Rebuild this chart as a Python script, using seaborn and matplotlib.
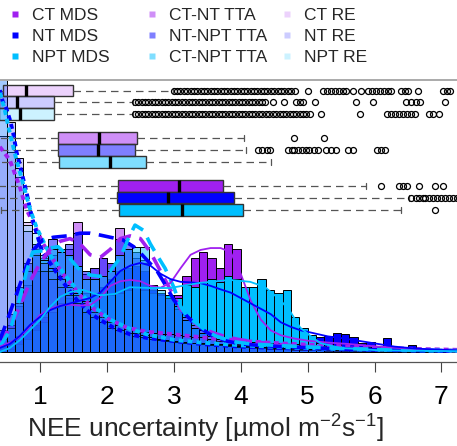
import numpy as np
import matplotlib
matplotlib.use("Agg")
import matplotlib.pyplot as plt
import seaborn as sns
from matplotlib.colors import to_rgba
from matplotlib.lines import Line2D

sns.set_theme(style="white")
plt.rcParams["font.family"] = ["Liberation Sans", "DejaVu Sans"]
plt.rcParams["mathtext.fontset"] = "custom"
plt.rcParams["mathtext.rm"] = "Liberation Sans"
plt.rcParams["mathtext.it"] = "Liberation Sans:italic"
plt.rcParams["mathtext.bf"] = "Liberation Sans:bold"

# ---------------- data ----------------
series = ["CT MDS", "NT MDS", "NPT MDS",
          "CT-NT TTA", "NT-NPT TTA", "CT-NPT TTA",
          "CT RE", "NT RE", "NPT RE"]
base_cols = {"CT": "#A020F0", "NT": "#0000FF", "NPT": "#00BFFF"}

bin_edges = [0.375, 0.5, 0.625, 0.75, 0.875, 1.0, 1.125, 1.25, 1.375, 1.5,
             1.625, 1.75, 1.875, 2.0, 2.125, 2.25, 2.375, 2.5, 2.625, 2.75,
             2.875, 3.0, 3.125, 3.25, 3.375, 3.5, 3.625, 3.75, 3.875, 4.0,
             4.125, 4.25, 4.375, 4.5, 4.625, 4.75, 4.875, 5.0, 5.125, 5.25,
             5.375, 5.5, 5.625, 5.75, 5.875, 6.0, 6.125, 6.25, 6.375, 6.5,
             6.625, 6.75, 6.875, 7.0, 7.125, 7.25]

hist_ct_mds = [0.01, 0.03, 0.05, 0.08, 0.11, 0.13, 0.15, 0.16, 0.17, 0.16,
               0.17, 0.18, 0.20, 0.22, 0.25, 0.27, 0.26, 0.24, 0.22, 0.20,
               0.20, 0.21, 0.28, 0.35, 0.37, 0.35, 0.31, 0.40, 0.38, 0.22,
               0.16, 0.12, 0.09, 0.07, 0.06, 0.05, 0.045, 0.04, 0.035, 0.03,
               0.03, 0.028, 0.025, 0.022, 0.02, 0.018, 0.015, 0.012, 0.01, 0.008,
               0.006, 0.005, 0.004, 0.003, 0.002]
hist_nt_mds = [0.02, 0.04, 0.06, 0.08, 0.10, 0.11, 0.13, 0.15, 0.17, 0.19,
               0.21, 0.22, 0.24, 0.27, 0.30, 0.31, 0.32, 0.30, 0.23, 0.22,
               0.21, 0.20, 0.22, 0.23, 0.24, 0.25, 0.22, 0.21, 0.20, 0.19,
               0.17, 0.16, 0.15, 0.12, 0.10, 0.08, 0.07, 0.06, 0.055, 0.06,
               0.07, 0.067, 0.056, 0.033, 0.037, 0.015, 0.052, 0.019, 0.015, 0.026,
               0.015, 0.01, 0.008, 0.006, 0.004]
hist_npt_mds = [0.0, 0.01, 0.03, 0.05, 0.08, 0.11, 0.15, 0.18, 0.20, 0.21,
                0.22, 0.21, 0.22, 0.21, 0.22, 0.23, 0.24, 0.23, 0.22, 0.21,
                0.21, 0.20, 0.25, 0.24, 0.26, 0.27, 0.26, 0.28, 0.27, 0.24,
                0.24, 0.27, 0.23, 0.22, 0.23, 0.13, 0.09, 0.063, 0.033, 0.015,
                0.01, 0.008, 0.006, 0.005, 0.004, 0.003, 0.003, 0.002, 0.002, 0.002,
                0.001, 0.001, 0.001, 0.001, 0.001]
hist_ctnt_tta = [0.05, 0.10, 0.17, 0.25, 0.30, 0.33, 0.36, 0.37, 0.38, 0.48,
                 0.29, 0.31, 0.35, 0.33, 0.46, 0.38, 0.35, 0.33, 0.25, 0.22,
                 0.20, 0.16, 0.13, 0.10, 0.08, 0.06, 0.05, 0.04, 0.035, 0.03,
                 0.025, 0.02, 0.02, 0.015, 0.015, 0.012, 0.01, 0.01, 0.008, 0.008,
                 0.006, 0.006, 0.005, 0.005, 0.004, 0.004, 0.003, 0.003, 0.002, 0.002,
                 0.002, 0.001, 0.001, 0.001, 0.001]
hist_ntnpt_tta = [0.08, 0.14, 0.24, 0.33, 0.40, 0.35, 0.42, 0.38, 0.40, 0.44,
                  0.30, 0.31, 0.35, 0.33, 0.42, 0.40, 0.37, 0.34, 0.24, 0.22,
                  0.20, 0.17, 0.12, 0.09, 0.07, 0.05, 0.04, 0.03, 0.03, 0.02,
                  0.02, 0.015, 0.01, 0.01, 0.01, 0.01, 0.008, 0.008, 0.006, 0.006,
                  0.005, 0.005, 0.004, 0.004, 0.003, 0.003, 0.003, 0.002, 0.002, 0.002,
                  0.001, 0.001, 0.001, 0.001, 0.001]
hist_ctnpt_tta = [0.03, 0.09, 0.18, 0.30, 0.38, 0.36, 0.38, 0.37, 0.36, 0.32,
                  0.27, 0.27, 0.28, 0.30, 0.36, 0.38, 0.39, 0.39, 0.25, 0.23,
                  0.21, 0.17, 0.12, 0.09, 0.07, 0.05, 0.04, 0.03, 0.025, 0.02,
                  0.015, 0.015, 0.012, 0.01, 0.01, 0.008, 0.008, 0.006, 0.006, 0.005,
                  0.004, 0.004, 0.003, 0.003, 0.003, 0.002, 0.002, 0.002, 0.001, 0.001,
                  0.001, 0.001, 0.001, 0.001, 0.001]
hist_ct_re = [0.80, 0.74, 0.65, 0.48, 0.40, 0.33, 0.30, 0.27, 0.24, 0.21,
              0.18, 0.15, 0.13, 0.11, 0.10, 0.09, 0.08, 0.075, 0.07, 0.068,
              0.065, 0.062, 0.06, 0.057, 0.054, 0.05, 0.048, 0.045, 0.043, 0.04,
              0.038, 0.036, 0.034, 0.032, 0.03, 0.028, 0.026, 0.025, 0.024, 0.022,
              0.021, 0.02, 0.019, 0.018, 0.017, 0.016, 0.015, 0.014, 0.013, 0.012,
              0.011, 0.01, 0.009, 0.008, 0.008]
hist_nt_re = [1.30, 0.85, 0.72, 0.45, 0.36, 0.30, 0.27, 0.24, 0.21, 0.18,
              0.15, 0.13, 0.11, 0.09, 0.08, 0.07, 0.06, 0.055, 0.05, 0.046,
              0.042, 0.038, 0.035, 0.032, 0.029, 0.027, 0.025, 0.022, 0.02, 0.019,
              0.018, 0.017, 0.015, 0.014, 0.013, 0.012, 0.012, 0.011, 0.01, 0.01,
              0.009, 0.009, 0.008, 0.008, 0.007, 0.007, 0.006, 0.006, 0.005, 0.005,
              0.005, 0.004, 0.004, 0.004, 0.004]
hist_npt_re = [1.20, 0.80, 0.68, 0.47, 0.44, 0.34, 0.31, 0.28, 0.25, 0.22,
               0.19, 0.16, 0.14, 0.12, 0.10, 0.085, 0.07, 0.062, 0.056, 0.05,
               0.046, 0.042, 0.038, 0.035, 0.032, 0.03, 0.028, 0.025, 0.023, 0.022,
               0.02, 0.018, 0.017, 0.016, 0.015, 0.014, 0.013, 0.012, 0.011, 0.01,
               0.009, 0.009, 0.008, 0.008, 0.007, 0.007, 0.006, 0.006, 0.005, 0.005,
               0.005, 0.004, 0.004, 0.004, 0.004]

# density curves
kde_ct_mds_x = [0.40, 0.55, 0.70, 0.85, 1.00, 1.15, 1.30, 1.45, 1.60, 1.75, 1.90, 2.05, 2.20, 2.35,
                2.50, 2.65, 2.80, 2.95, 3.10, 3.25, 3.40, 3.55, 3.70, 3.85, 4.00, 4.15, 4.30, 4.45,
                4.60, 4.80, 5.00, 5.30, 5.60, 6.00, 6.50, 7.00, 7.25]
kde_ct_mds_y = [0.02, 0.035, 0.056, 0.095, 0.137, 0.16, 0.172, 0.175, 0.172, 0.174, 0.20, 0.245, 0.262, 0.267,
                0.262, 0.245, 0.238, 0.256, 0.31, 0.36, 0.378, 0.385, 0.385, 0.37, 0.29, 0.19, 0.12, 0.08,
                0.062, 0.05, 0.042, 0.035, 0.03, 0.021, 0.013, 0.007, 0.005]
kde_nt_mds_x = [0.40, 0.55, 0.70, 0.85, 1.00, 1.15, 1.30, 1.45, 1.60, 1.75, 1.90, 2.05, 2.20, 2.35,
                2.50, 2.65, 2.80, 2.95, 3.10, 3.25, 3.40, 3.55, 3.70, 3.85, 4.00, 4.15, 4.30, 4.45,
                4.60, 4.75, 4.90, 5.05, 5.30, 5.55, 5.80, 6.05, 6.30, 6.60, 6.90, 7.25]
kde_nt_mds_y = [0.015, 0.03, 0.06, 0.10, 0.13, 0.155, 0.17, 0.18, 0.19, 0.20, 0.22, 0.26, 0.30, 0.32,
                0.33, 0.32, 0.29, 0.27, 0.26, 0.258, 0.255, 0.245, 0.232, 0.22, 0.20, 0.18, 0.16, 0.14,
                0.11, 0.093, 0.08, 0.072, 0.058, 0.05, 0.04, 0.03, 0.02, 0.013, 0.009, 0.006]
kde_npt_mds_x = [0.40, 0.55, 0.70, 0.85, 1.00, 1.15, 1.30, 1.45, 1.64, 1.90, 2.12, 2.34, 2.64, 2.94,
                 3.39, 3.84, 4.14, 4.36, 4.59, 4.74, 4.89, 5.04, 5.19, 5.49, 6.09, 7.25]
kde_npt_mds_y = [0.0, 0.015, 0.044, 0.081, 0.119, 0.167, 0.204, 0.222, 0.23, 0.21, 0.215, 0.24, 0.237, 0.237,
                 0.256, 0.267, 0.26, 0.241, 0.193, 0.15, 0.09, 0.06, 0.033, 0.015, 0.006, 0.003]

kde_ctnt_tta_x = [0.40, 0.55, 0.70, 0.85, 1.00, 1.15, 1.30, 1.45, 1.60, 1.75, 1.90, 2.05, 2.20, 2.35,
                  2.50, 2.65, 2.80, 2.95, 3.10, 3.25, 3.40, 3.60, 3.80, 4.00, 4.30, 4.70, 5.20, 6.00, 7.25]
kde_ctnt_tta_y = [0.03, 0.09, 0.17, 0.26, 0.33, 0.38, 0.41, 0.42, 0.40, 0.36, 0.35, 0.38, 0.42, 0.43,
                  0.42, 0.37, 0.30, 0.23, 0.16, 0.12, 0.09, 0.07, 0.055, 0.045, 0.035, 0.025, 0.018, 0.01, 0.005]
kde_ntnpt_tta_x = [0.40, 0.50, 0.60, 0.70, 0.80, 0.90, 1.04, 1.20, 1.40, 1.60, 1.75, 1.90, 2.05, 2.24,
                   2.40, 2.50, 2.62, 2.75, 2.87, 3.00, 3.15, 3.30, 3.45, 3.60, 3.80, 4.00, 4.30, 4.60,
                   5.00, 5.60, 6.50, 7.25]
kde_ntnpt_tta_y = [0.044, 0.11, 0.18, 0.25, 0.32, 0.378, 0.415, 0.425, 0.43, 0.44, 0.44, 0.433, 0.425, 0.415,
                   0.39, 0.367, 0.335, 0.30, 0.25, 0.193, 0.145, 0.107, 0.08, 0.056, 0.04, 0.03, 0.024, 0.02,
                   0.016, 0.01, 0.006, 0.004]
kde_ctnpt_tta_x = [0.40, 0.55, 0.70, 0.80, 0.89, 1.04, 1.15, 1.27, 1.40, 1.57, 1.75, 1.90, 2.05, 2.20,
                   2.32, 2.42, 2.55, 2.65, 2.77, 2.87, 3.00, 3.10, 3.20, 3.32, 3.45, 3.62, 3.85, 4.14,
                   4.50, 4.90, 5.50, 6.30, 7.25]
kde_ctnpt_tta_y = [0.02, 0.08, 0.20, 0.30, 0.37, 0.375, 0.385, 0.39, 0.36, 0.31, 0.285, 0.28, 0.30, 0.35,
                   0.42, 0.47, 0.45, 0.40, 0.35, 0.31, 0.24, 0.17, 0.13, 0.11, 0.085, 0.06, 0.04, 0.03,
                   0.025, 0.02, 0.013, 0.008, 0.005]

kde_ct_re_x = [0.40, 0.55, 0.70, 0.80, 0.90, 1.05, 1.20, 1.40, 1.60, 1.80, 2.00, 2.30, 2.60, 2.90,
               3.20, 3.60, 4.10, 4.60, 5.20, 5.80, 6.50, 7.25]
kde_ct_re_y = [0.76, 0.71, 0.61, 0.526, 0.478, 0.40, 0.34, 0.27, 0.21, 0.16, 0.125, 0.09, 0.075, 0.068,
               0.06, 0.05, 0.04, 0.032, 0.025, 0.018, 0.012, 0.008]
kde_nt_re_x = [0.40, 0.44, 0.50, 0.55, 0.60, 0.65, 0.73, 0.80, 0.85, 0.92, 1.04, 1.15, 1.25, 1.40,
               1.55, 1.75, 1.90, 2.10, 2.35, 2.60, 2.87, 3.20, 3.54, 4.00, 4.50, 5.00, 5.50, 6.00,
               6.50, 7.25]
kde_nt_re_y = [0.97, 0.93, 0.90, 0.86, 0.81, 0.74, 0.66, 0.59, 0.53, 0.463, 0.367, 0.33, 0.293, 0.24,
               0.193, 0.144, 0.119, 0.09, 0.065, 0.052, 0.044, 0.035, 0.027, 0.02, 0.015, 0.012, 0.01, 0.008,
               0.006, 0.004]
kde_npt_re_x = [0.40, 0.47, 0.55, 0.65, 0.74, 0.85, 0.95, 1.15, 1.45, 1.75, 2.05, 2.35, 2.60, 3.00,
                3.40, 4.00, 4.90, 6.00, 7.25]
kde_npt_re_y = [0.96, 0.90, 0.81, 0.71, 0.63, 0.53, 0.46, 0.36, 0.26, 0.18, 0.12, 0.085, 0.065, 0.045,
                0.035, 0.025, 0.015, 0.008, 0.004]

# box statistics: q1, median, q3, lower whisker, upper whisker
box_q1 = [0.45, 0.39, 0.39, 1.273, 1.273, 1.288, 2.171, 2.156, 2.186]
box_med = [0.789, 0.66, 0.704, 1.886, 1.862, 2.047, 3.085, 2.91, 3.12]
box_q3 = [1.488, 1.213, 1.213, 2.455, 2.42, 2.58, 3.733, 3.903, 4.038]
box_lo = [0.10, 0.10, 0.10, 0.20, 0.20, 0.20, 0.30, 0.30, 0.415]
box_hi = [2.99, 2.39, 2.39, 4.05, 4.08, 4.46, 5.88, 6.51, 6.40]
box_names = ["CT RE", "NT RE", "NPT RE", "CT-NT TTA", "NT-NPT TTA", "CT-NPT TTA",
             "CT MDS", "NT MDS", "NPT MDS"]
fliers_ct_re = [3.00, 3.05, 3.10, 3.15, 3.20, 3.25, 3.30, 3.35, 3.40, 3.45, 3.50, 3.55, 3.60, 3.65,
                3.70, 3.75, 3.80, 3.85, 3.90, 3.95, 4.00, 4.05, 4.10, 4.15, 4.20, 4.25, 4.30, 4.35,
                4.40, 4.45, 4.50, 4.55, 4.60, 4.65, 4.70, 4.75, 4.81, 5.00, 5.23, 5.29, 5.35, 5.41,
                5.47, 5.53, 5.57, 5.68, 5.80, 5.90, 5.96, 6.02, 6.08, 6.14, 6.20, 6.25, 6.40, 6.46,
                6.50, 6.65, 7.02, 7.08, 7.13]
fliers_nt_re = [2.42, 2.47, 2.52, 2.57, 2.62, 2.67, 2.72, 2.77, 2.82, 2.87, 2.92, 2.97, 3.02, 3.07,
                3.12, 3.17, 3.22, 3.27, 3.32, 3.37, 3.42, 3.47, 3.52, 3.57, 3.62, 3.67, 3.72, 3.77,
                3.82, 3.87, 3.92, 3.97, 4.02, 4.07, 4.12, 4.17, 4.22, 4.27, 4.32, 4.37, 4.49, 4.64,
                4.82, 4.88, 4.93, 5.11, 5.72, 5.98, 6.47, 6.55, 6.62, 6.68, 7.05]
fliers_npt_re = [2.42, 2.47, 2.52, 2.57, 2.62, 2.67, 2.72, 2.77, 2.82, 2.87, 2.92, 2.97, 3.02, 3.07,
                 3.12, 3.17, 3.22, 3.27, 3.32, 3.37, 3.42, 3.47, 3.52, 3.57, 3.62, 3.67, 3.72, 3.77,
                 3.82, 3.87, 3.92, 3.97, 4.02, 4.07, 4.12, 4.17, 4.22, 4.27, 4.32, 4.38, 4.43, 4.48,
                 4.53, 4.58, 4.63, 4.68, 4.73, 4.78, 4.83, 4.88, 4.93, 4.98, 5.03, 5.20, 5.79, 6.18,
                 6.24, 6.30, 6.36, 6.43, 6.49, 6.55, 6.61, 6.81, 6.88, 6.96]
fliers_ctnt_tta = [4.80, 5.24]
fliers_ntnpt_tta = [4.26, 4.32, 4.39, 4.44, 4.71, 4.76, 4.80, 4.86, 4.91, 4.97, 5.02, 5.09, 5.16,
                    5.27, 5.35, 5.43, 5.61, 5.68, 6.03, 6.10, 6.16]
fliers_ctnpt_tta = []
fliers_ct_mds = [6.09, 6.36, 6.42, 6.48, 6.66, 6.91, 7.03]
fliers_nt_mds = [6.55, 6.62, 6.67, 6.72, 6.76, 6.81, 6.87, 6.93, 6.99, 7.05, 7.11, 7.17, 7.23]
fliers_npt_mds = [6.91]

xticks = [1, 2, 3, 4, 5, 6, 7]
xlabel = r"NEE uncertainty [µmol m$^{-2}$s$^{-1}$]"

# ---------------- figure ----------------
W, H = 457, 446
fig = plt.figure(figsize=(W / 100, H / 100), dpi=100)
ax = fig.add_axes([0, (H - 362) / H, 1, (362 - 80) / H])

alpha_of = {"MDS": 1.0, "TTA": 0.5, "RE": 0.2}

def col_for(name):
    key = name.split()[0]
    if "-" in key:
        key = {"CT-NT": "CT", "NT-NPT": "NT", "CT-NPT": "NPT"}[key]
    return base_cols[key]

def rgba_for(name):
    return to_rgba(col_for(name), alpha_of[name.split()[1]])

hist_data = {"CT MDS": hist_ct_mds, "NT MDS": hist_nt_mds, "NPT MDS": hist_npt_mds,
             "CT-NT TTA": hist_ctnt_tta, "NT-NPT TTA": hist_ntnpt_tta, "CT-NPT TTA": hist_ctnpt_tta,
             "CT RE": hist_ct_re, "NT RE": hist_nt_re, "NPT RE": hist_npt_re}
centers = [(a + b) / 2 for a, b in zip(bin_edges[:-1], bin_edges[1:])]
for name in series:
    sns.histplot(x=centers, weights=hist_data[name], bins=bin_edges, stat="count", ax=ax,
                 facecolor=rgba_for(name), edgecolor="black", linewidth=0.7, zorder=1)

# boxplots
ypos = [0.9685, 0.926, 0.881, 0.793, 0.748, 0.704, 0.615, 0.572, 0.526]
fl = [fliers_ct_re, fliers_nt_re, fliers_npt_re, fliers_ctnt_tta, fliers_ntnpt_tta,
      fliers_ctnpt_tta, fliers_ct_mds, fliers_nt_mds, fliers_npt_mds]
stats = []
for i in range(9):
    stats.append(dict(med=box_med[i], q1=box_q1[i], q3=box_q3[i], whislo=box_lo[i],
                      whishi=box_hi[i], fliers=np.array(fl[i], dtype=float)))
bx_kw = dict(positions=ypos, widths=0.043, patch_artist=True, showfliers=True, capwidths=0.022,
             boxprops=dict(edgecolor="#333333", linewidth=1.0),
             whiskerprops=dict(color="#555555", linewidth=0.9, linestyle=(0, (6, 4))),
             capprops=dict(color="#555555", linewidth=0.9),
             medianprops=dict(color="black", linewidth=2.4, solid_capstyle="butt"),
             flierprops=dict(marker="o", markerfacecolor="none", markeredgecolor="black",
                             markersize=4.3, markeredgewidth=0.9),
             manage_ticks=False, zorder=3)
try:
    bp = ax.bxp(stats, orientation="horizontal", **bx_kw)
except TypeError:
    bp = ax.bxp(stats, vert=False, **bx_kw)
for patch, name in zip(bp["boxes"], box_names):
    patch.set_facecolor(rgba_for(name))

# density lines
line_specs = [
    (kde_ct_re_x, kde_ct_re_y, "CT RE"), (kde_nt_re_x, kde_nt_re_y, "NT RE"),
    (kde_npt_re_x, kde_npt_re_y, "NPT RE"),
    (kde_ctnt_tta_x, kde_ctnt_tta_y, "CT-NT TTA"), (kde_ntnpt_tta_x, kde_ntnpt_tta_y, "NT-NPT TTA"),
    (kde_ctnpt_tta_x, kde_ctnpt_tta_y, "CT-NPT TTA"),
    (kde_ct_mds_x, kde_ct_mds_y, "CT MDS"), (kde_nt_mds_x, kde_nt_mds_y, "NT MDS"),
    (kde_npt_mds_x, kde_npt_mds_y, "NPT MDS"),
]
for xs, ys, name in line_specs:
    kind = name.split()[1]
    if kind == "MDS":
        ls, lw = "-", 1.3
    elif kind == "TTA":
        ls, lw = (0, (4.2, 2.4)), 2.6
    else:
        ls, lw = (0, (1.3, 1.0)), 2.8
    sns.lineplot(x=xs, y=ys, ax=ax, color=col_for(name), linewidth=lw, linestyle=ls,
                 errorbar=None, dash_capstyle="butt", zorder=4)

# axes styling
ax.set_xlim(0.402, 7.233)
ax.set_ylim(-0.037, 1.0074)
ax.set_yticks([])
ax.set_ylabel("")
ax.set_xticks(xticks)
ax.set_xticklabels([str(t) for t in xticks], fontsize=19)
ax.tick_params(axis="x", direction="out", length=7.2, width=0.8, color="#444444", pad=9,
               bottom=True, labelcolor="black")
for s in ["left", "right"]:
    ax.spines[s].set_visible(False)
ax.spines["top"].set_color("#aaaaaa")
ax.spines["top"].set_linewidth(1.4)
ax.spines["bottom"].set_color("#555555")
ax.spines["bottom"].set_linewidth(0.9)
ax.set_xlabel(xlabel, fontsize=19)
ax.xaxis.set_label_coords(205 / W, (362 - 413) / (362 - 80))
ax.set_facecolor("white")
fig.patch.set_facecolor("white")

# legends (three columns)
groups = [series[0:3], series[3:6], series[6:9]]
col_x = [15, 152, 287]
for grp, cx in zip(groups, col_x):
    handles = [Line2D([], [], marker="s", linestyle="none", markersize=5.0,
                      markerfacecolor=rgba_for(n), markeredgecolor="none") for n in grp]
    fig.legend(handles, grp, loc="upper left",
               bbox_to_anchor=((cx - 5.2) / W, 1 - 8 / H), bbox_transform=fig.transFigure,
               frameon=False, borderpad=0, borderaxespad=0, handlelength=0.6,
               handletextpad=0.68, labelspacing=0.34, fontsize=12.5)

fig.savefig("out.png", dpi=100)
